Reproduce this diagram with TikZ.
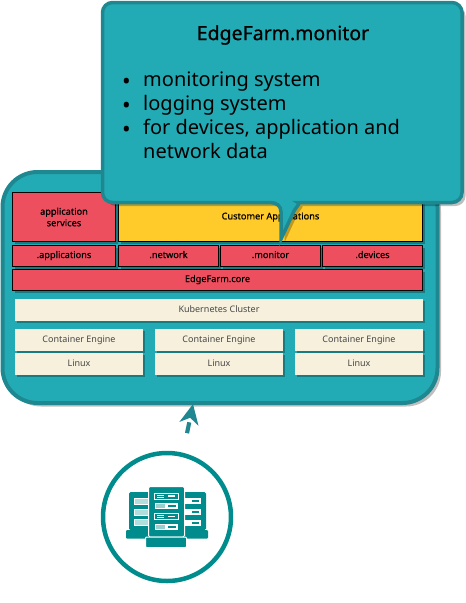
\documentclass[tikz,border=0pt]{standalone}
\usepackage{fontspec}
\setmainfont{Noto Sans}
\newfontfamily\mediumfont[FakeBold=0.6]{Noto Sans}
\usetikzlibrary{shadows,arrows.meta}
\definecolor{tealfill}{HTML}{23ABB5}
\definecolor{tealedge}{HTML}{1F8790}
\definecolor{hostteal}{HTML}{008C8C}
\definecolor{redlayer}{HTML}{EE4F5F}
\definecolor{yellowlayer}{HTML}{FFCB2B}
\definecolor{creamlayer}{HTML}{F6F0DD}
\newcommand{\listbullet}{\makebox[21pt][l]{\raisebox{-3pt}{\fontsize{23}{23}\selectfont\textbullet}}}
\tikzstyle{softshadow} = [drop shadow={shadow xshift=2pt, shadow yshift=-2.5pt, fill=black, opacity=0.28}]
\tikzstyle{wideshadow} = [drop shadow={shadow xshift=3.5pt, shadow yshift=-3.5pt, fill=black, opacity=0.25}]
\tikzstyle{cluster} = [rectangle, draw=tealedge, fill=tealfill, line width=4pt, rounded corners=35pt, wideshadow, inner sep=0pt]
\tikzstyle{layer} = [rectangle, draw=black, line width=1pt, inner sep=0pt, softshadow, align=center,
    font=\fontsize{9.2}{11.5}\mediumfont]
\tikzstyle{redblock} = [layer, fill=redlayer]
\tikzstyle{yellowblock} = [layer, fill=yellowlayer]
\tikzstyle{oneline} = [text height=7pt, text depth=2pt]
\tikzstyle{creamblock} = [rectangle, fill=creamlayer, text=black!72, inner sep=0pt, softshadow, oneline,
    font=\fontsize{9}{11}\selectfont]
\tikzstyle{line} = [draw=tealedge, line width=4pt, dash pattern=on 11pt off 30pt, shorten <=20pt,
    -{Stealth[length=20pt,width=19pt,inset=6pt]}]
\begin{document}
\begin{tikzpicture}[x=1pt, y=-1pt]
	    \useasboundingbox (0,0) rectangle (466,603);
	    % Place nodes
	    \node [cluster, minimum width=435pt, minimum height=231pt] (edgecluster) at (220,287.5) {};
	    \node [redblock, minimum width=103pt, minimum height=49pt] (appservices) at (64,217) {application\\services};
	    \node [yellowblock, minimum width=304pt, minimum height=49pt] (customerapps) at (270.5,217) {Customer Applications};
	    \node [redblock, oneline, minimum width=103pt, minimum height=21pt] (applications) at (64,255.5) {.applications};
	    \node [redblock, oneline, minimum width=100pt, minimum height=21pt] (network) at (168.5,255.5) {.network};
	    \node [redblock, oneline, minimum width=100pt, minimum height=21pt] (monitor) at (270.5,255.5) {.monitor};
	    \node [redblock, oneline, minimum width=100pt, minimum height=21pt] (devices) at (372.5,255.5) {.devices};
	    \node [redblock, oneline, minimum width=410pt, minimum height=21pt] (core) at (217.5,279.5) {EdgeFarm.core};
	    \node [creamblock, minimum width=408pt, minimum height=22pt] (kubernetes) at (219,309.5) {Kubernetes Cluster};
	    \foreach \name/\xpos in {one/79,two/219,three/359} {
	        \node [creamblock, minimum width=128pt, minimum height=22pt] (engine\name) at (\xpos,339.5) {Container Engine};
	        \node [creamblock, minimum width=128pt, minimum height=22pt] (linux\name) at (\xpos,363.5) {Linux};
	    }
	    % Callout on top
	    \draw [draw=tealedge, fill=tealfill, line width=3.5pt, wideshadow, rounded corners=10pt]
	        (102.5,2.5) -- (462,2.5) -- (462,202.5) -- (308,202.5)
	        [rounded corners=0pt] .. controls (301,202.5) and (297,206) .. (294,211) -- (281,239)
	        -- (281,212) .. controls (281,206) and (277,202.5) .. (270,202.5)
	        [rounded corners=10pt] -- (102.5,202.5) -- cycle;
	    \node [font=\fontsize{19.5}{24}\mediumfont] (callouttitle) at (283,35) {EdgeFarm.monitor};
	    \node [anchor=north west, inner sep=0pt, font=\fontsize{20}{24}\selectfont] (calloutlist) at (122,69) {%
	        \begin{tabular}{@{}l@{}l@{}}
	            \listbullet & monitoring system\\
	            \listbullet & logging system\\
	            \listbullet & for devices, application and\\
	             & network data
	        \end{tabular}};
	    % Host icon
	    \node [circle, draw=hostteal, line width=4.5pt, minimum size=128pt, inner sep=0pt] (host) at (167,517) {};
	    \fill [hostteal, rounded corners=1.5pt] (129,492) rectangle (206,530);
	    \fill [hostteal, rounded corners=1pt] (126,530) rectangle (208,538.5);
	    \foreach \ypos in {498,509,519.5} {
	        \draw [white, fill=white!70!hostteal, line width=.7pt] (134.5,\ypos) rectangle (148,\ypos+6);
	        \fill [white] (185,\ypos) rectangle (201,\ypos+6);
	        \fill [hostteal] (192,\ypos+2) rectangle (199,\ypos+4);
	    }
	    \draw [white, fill=hostteal, line width=1pt, rounded corners=1.5pt] (148.5,486.5) rectangle (184.5,537);
	    \draw [white, fill=hostteal, line width=1pt, rounded corners=1pt] (145.5,537) rectangle (186.5,547.5);
	    \foreach \ypos in {493,513.5} {
	        \draw [white, line width=.7pt] (154.5,\ypos) rectangle (178,\ypos+6);
	        \draw [white, line width=.8pt] (157,\ypos+2) -- (164,\ypos+2) (157,\ypos+4) -- (164,\ypos+4);
	        \fill [white] (168,\ypos+2.2) rectangle (175,\ypos+3.8);
	    }
	    \foreach \ypos in {503,524} {
	        \fill [white] (154.5,\ypos) rectangle (178,\ypos+6);
	        \fill [white!60!hostteal] (156,\ypos+1) rectangle (165,\ypos+5);
	        \fill [hostteal] (168,\ypos+2.2) rectangle (176,\ypos+3.8);
	    }
	    % Draw edges
	    \coordinate (clusterport) at (193,404);
	    \path [line, draw=black, opacity=0.25, xshift=2pt, yshift=-2pt, -] (host.76) -- (clusterport);
	    \path [line] (host.76) -- (clusterport);
\end{tikzpicture}
\end{document}
